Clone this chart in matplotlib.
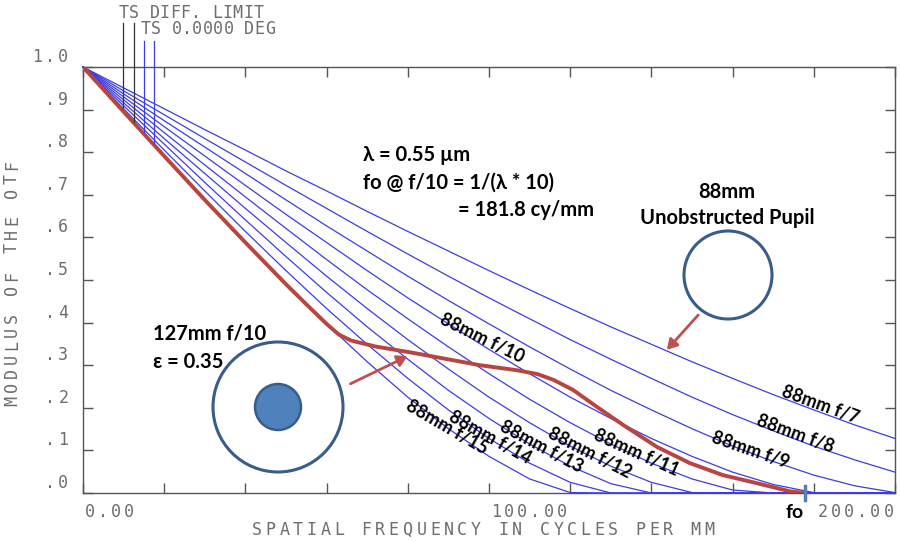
import numpy as np
import matplotlib as mpl
mpl.use('Agg')
import matplotlib.pyplot as plt
import matplotlib.patches as mpatches
from matplotlib.transforms import IdentityTransform

W, H = 900, 542   # output size in pixels (dpi 100)

# spatial frequency (cycles/mm) and MTF of the 88mm aperture curves
freq = [0, 10, 20, 30, 40, 50, 60, 70, 80, 90, 100, 110, 120, 130, 140, 150, 160, 170, 180, 190, 200]
mtf_f7 = [1.000, .951, .902, .853, .805, .756, .709, .661, .614, .568, .522, .477, .433, .390, .349, .308, .269, .231, .195, .160, .128]
mtf_f8 = [1.000, .944, .888, .832, .777, .722, .668, .614, .561, .509, .458, .409, .360, .314, .269, .225, .184, .146, .110, .078, .049]
mtf_f9 = [1.000, .937, .874, .812, .750, .688, .627, .568, .509, .452, .397, .343, .291, .241, .195, .151, .110, .074, .042, .017, .001]
mtf_f10 = [1.000, .930, .860, .791, .722, .654, .588, .522, .458, .397, .337, .280, .225, .175, .128, .086, .049, .020, .001, 0, 0]
mtf_f11 = [1.000, .923, .846, .770, .695, .621, .548, .477, .409, .343, .280, .220, .165, .115, .070, .033, .007, 0, 0, 0, 0]
mtf_f12 = [1.000, .916, .832, .750, .668, .588, .509, .433, .360, .291, .225, .165, .110, .063, .025, .001, 0, 0, 0, 0, 0]
mtf_f13 = [1.000, .909, .819, .729, .641, .555, .471, .390, .314, .241, .175, .115, .063, .022, 0, 0, 0, 0, 0, 0, 0]
mtf_f14 = [1.000, .902, .805, .709, .614, .522, .433, .349, .269, .195, .128, .070, .025, 0, 0, 0, 0, 0, 0, 0, 0]
mtf_f15 = [1.000, .895, .791, .688, .588, .490, .397, .308, .225, .151, .086, .033, .001, 0, 0, 0, 0, 0, 0, 0, 0]
blue_curves = [mtf_f7, mtf_f8, mtf_f9, mtf_f10, mtf_f11, mtf_f12, mtf_f13, mtf_f14, mtf_f15]

# 127mm f/10 obstructed (eps = 0.35) curve
red_freq = [0, 10, 20, 30, 40, 50, 55, 60, 63, 66, 72, 81.3, 97.8, 107, 112, 116, 120.7,
            126.6, 133, 141.4, 149.5, 157.6, 166, 174.1, 177.8]
red_mtf = [1.0, .895, .791, .688, .588, .490, .443, .397, .372, .358, .344, .329, .300, .288,
           .279, .265, .242, .202, .160, .108, .070, .042, .023, .004, 0.0]

ytick_vals = [1.0, 0.9, 0.8, 0.7, 0.6, 0.5, 0.4, 0.3, 0.2, 0.1, 0.0]
ytick_labels = ['1.0', '.9', '.8', '.7', '.6', '.5', '.4', '.3', '.2', '.1', '.0']
xtick_vals = [0, 100, 200]
xtick_labels = ['0.00', '100.00', '200.00']
fo_freq = 177.8

grey = '#6e6e6e'
blue = '#3c3ce6'
red = '#b8453f'
navy = '#385d8a'

fig = plt.figure(figsize=(9, 5.42), dpi=100)
ax = fig.add_axes([83 / W, 1 - 493 / H, (895 - 83) / W, (493 - 67) / H])
ax.set_xlim(0, 200)
ax.set_ylim(0, 1)

for m in blue_curves:
    ax.plot(freq, m, color=blue, lw=0.9, clip_on=False, zorder=2.6)
ax.plot(red_freq, red_mtf, color=red, lw=2.8, solid_capstyle='round',
        solid_joinstyle='round', zorder=3)

# frame and inward ticks
for sp in ax.spines.values():
    sp.set_color('#555555')
    sp.set_linewidth(1.0)
ax.set_xticks(np.arange(0, 201, 20))
ax.set_yticks(np.arange(0, 1.01, 0.1))
ax.tick_params(direction='in', length=7, width=1, color='#555555',
               top=True, right=True, labelbottom=False, labelleft=False)


def mono(x, y, s, pitch, rot=0, size=12):
    # zemax style text: each char on a fixed pitch, x,y in display pixels
    for i, ch in enumerate(s):
        if rot == 0:
            fig.text(x + (i + 0.5) * pitch, y, ch, ha='center', va='center',
                     family='DejaVu Sans Mono', size=size, color=grey,
                     transform=IdentityTransform())
        else:
            fig.text(x, y + (i + 0.5) * pitch, ch, ha='center', va='center',
                     rotation=90, family='DejaVu Sans Mono', size=size,
                     color=grey, transform=IdentityTransform())


fig.canvas.draw()
for v, lab in zip(ytick_vals, ytick_labels):
    py = ax.transData.transform((0, v))[1]
    mono(70 - len(lab) * 13.3, py + 10, lab, 13.3)
for v, lab in zip(xtick_vals, xtick_labels):
    px = ax.transData.transform((v, 0))[0]
    if v == 200:
        px = 895 - len(lab) * 13.2
    mono(px, H - 512, lab, 13.2)
mono(250, H - 530, 'SPATIAL FREQUENCY IN CYCLES PER MM', 13.7)
mono(12, H - 408, 'MODULUS OF THE OTF', 13.9, rot=90)
mono(118, H - 13, 'TS DIFF. LIMIT', 10.4)
mono(140, H - 29, 'TS 0.0000 DEG', 10.4)

# leader lines from the legend text down to the curves
for x, y0, y1, c in [(123, 23, 108, '#333333'), (134, 23, 122, '#333333'),
                     (144, 41, 132, blue), (154, 41, 143, blue)]:
    fig.add_artist(plt.Line2D([x, x], [H - y0, H - y1], color=c, lw=0.9,
                              transform=IdentityTransform()))

# fo marker
ax.plot([fo_freq, fo_freq], [-0.016, 0.016], color='#4f81bd', lw=2.5,
        clip_on=False, zorder=4)
fofx = ax.transData.transform((fo_freq, 0))[0]
lab_font = dict(family=['Lato', 'DejaVu Sans'], weight='bold', color='black',
                transform=IdentityTransform())
fig.text(fofx - 10, H - 513, 'fo', ha='center', va='center', size=14, **lab_font)

curve_labels = [('88mm f/7', 820, 405, -20), ('88mm f/8', 795, 434, -20),
                ('88mm f/9', 750, 450, -19), ('88mm f/10', 482, 338, -26),
                ('88mm f/11', 636, 453, -24), ('88mm f/12', 590, 453, -27),
                ('88mm f/13', 541, 447, -28), ('88mm f/14', 490, 437, -29),
                ('88mm f/15', 447, 427, -30)]
for t, x, y, r in curve_labels:
    fig.text(x, H - y, t, ha='center', va='center', rotation=r,
             rotation_mode='anchor', size=13, **lab_font)

fs = 14.5
fig.text(363, H - 155, 'λ = 0.55 µm', ha='left', va='center', size=fs, **lab_font)
fig.text(363, H - 183, 'fo @ f/10 = 1/(λ * 10)', ha='left', va='center', size=fs, **lab_font)
fig.text(458, H - 210, '= 181.8 cy/mm', ha='left', va='center', size=fs, **lab_font)
fig.text(727, H - 192, '88mm', ha='center', va='center', size=fs, **lab_font)
fig.text(727, H - 218, 'Unobstructed Pupil', ha='center', va='center', size=fs, **lab_font)
fig.text(153, H - 333, '127mm f/10', ha='left', va='center', size=fs, **lab_font)
fig.text(153, H - 362, 'ε = 0.35', ha='left', va='center', size=fs, **lab_font)

# pupil drawings
fig.add_artist(mpatches.Circle((728, H - 275), 44, fill=False, ec=navy, lw=2.2,
                               transform=IdentityTransform()))
fig.add_artist(mpatches.Circle((278, H - 407), 65, fill=False, ec=navy, lw=2.2,
                               transform=IdentityTransform()))
fig.add_artist(mpatches.Circle((278, H - 407), 23, fc='#4f81bd', ec=navy, lw=1.8,
                               transform=IdentityTransform()))

for (x0, y0), (x1, y1) in [((348, 385), (410, 355)), ((700, 313), (665, 352))]:
    fig.add_artist(mpatches.FancyArrowPatch((x0, H - y0), (x1, H - y1),
                                            arrowstyle='-|>,head_length=6,head_width=3.5',
                                            color='#c0504d', lw=2,
                                            transform=IdentityTransform()))

fig.savefig('out.png', dpi=100)
